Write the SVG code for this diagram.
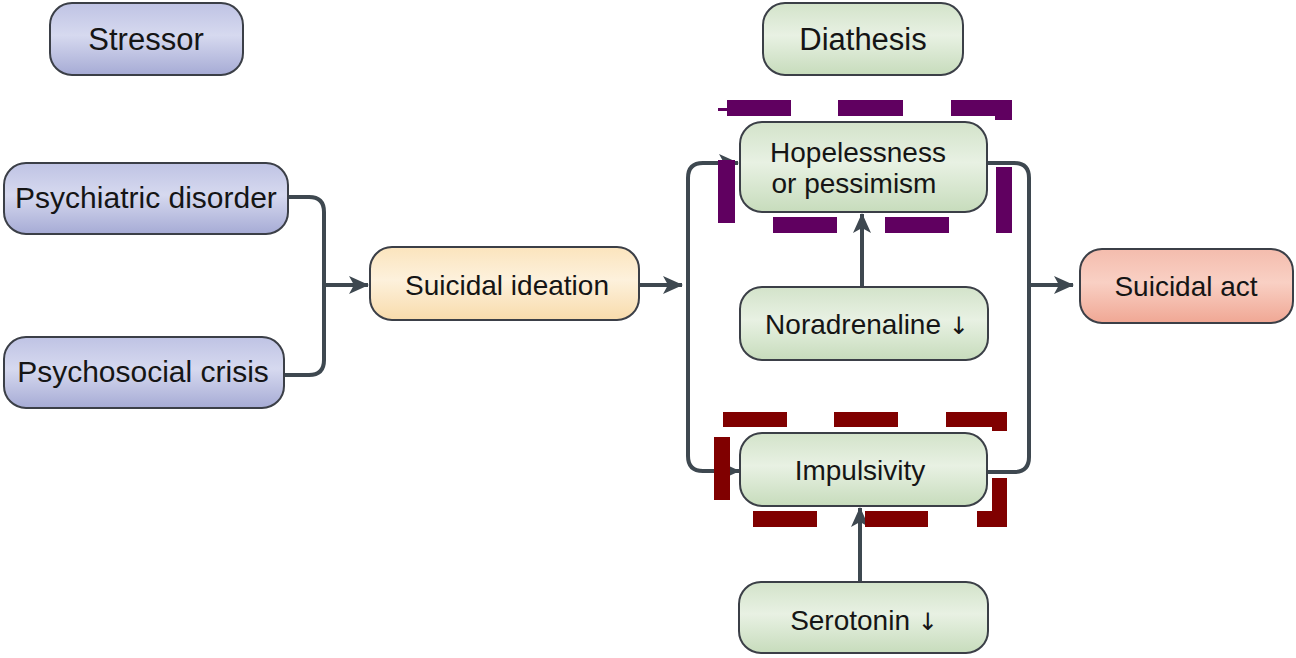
<svg xmlns="http://www.w3.org/2000/svg" width="1296" height="658" viewBox="0 0 1296 658">
  <defs>
    <linearGradient id="gBlue" x1="0" y1="0" x2="0" y2="1">
      <stop offset="0" stop-color="#bfc3e4"/>
      <stop offset="0.45" stop-color="#d6d9ef"/>
      <stop offset="1" stop-color="#a6abd5"/>
    </linearGradient>
    <linearGradient id="gGreen" x1="0" y1="0" x2="0" y2="1">
      <stop offset="0" stop-color="#d3e3ca"/>
      <stop offset="0.45" stop-color="#e8f1e3"/>
      <stop offset="1" stop-color="#c7dcbc"/>
    </linearGradient>
    <linearGradient id="gYellow" x1="0" y1="0" x2="0" y2="1">
      <stop offset="0" stop-color="#fbe4bd"/>
      <stop offset="0.45" stop-color="#fdf1dc"/>
      <stop offset="1" stop-color="#f8dbab"/>
    </linearGradient>
    <linearGradient id="gPink" x1="0" y1="0" x2="0" y2="1">
      <stop offset="0" stop-color="#f4bcad"/>
      <stop offset="0.45" stop-color="#f9d0c4"/>
      <stop offset="1" stop-color="#f0a794"/>
    </linearGradient>
    <marker id="arr" viewBox="0 0 20 18" refX="19" refY="9" markerWidth="20" markerHeight="18" markerUnits="userSpaceOnUse" orient="auto">
      <path d="M0,0 L20,9 L0,18 L5,9 Z" fill="#3e4850"/>
    </marker>
    <style>
      .box { stroke: #3b3f47; stroke-width: 2; }
      .blue { fill: url(#gBlue); }
      .green { fill: url(#gGreen); }
      .yellow { fill: url(#gYellow); }
      .pink { fill: url(#gPink); }
      .t { font-family: "Liberation Sans", Arial, sans-serif; fill: #151515; text-anchor: middle; }
      .dn { font-family: "DejaVu Sans", "Liberation Sans", sans-serif; fill: #151515; font-size: 24px; }
      .t30 { font-size: 30px; }
      .t28 { font-size: 28px; }
      .t31 { font-size: 31px; }
      .con { fill: none; stroke: #3e4850; stroke-width: 4; }
      .purple { fill: #600060; }
      .red { fill: #800000; }
    </style>
  </defs>
  <rect width="1296" height="658" fill="#ffffff"/>

  <g id="connectors">
    <path class="con" d="M288,197 H309 Q324,197 324,212 V360 Q324,375 309,375 H284"/>
    <path class="con" d="M324,285 H368" marker-end="url(#arr)"/>
    <path class="con" d="M639,285 H682" marker-end="url(#arr)"/>
    <path class="con" d="M688,285 V178 Q688,163 703,163 H738" marker-end="url(#arr)"/>
    <path class="con" d="M688,285 V456 Q688,471 703,471 H739" marker-end="url(#arr)"/>
    <path class="con" d="M987,163 H1014 Q1029,163 1029,178 V457 Q1029,472 1014,472 H987"/>
    <path class="con" d="M1029,285 H1073" marker-end="url(#arr)"/>
    <path class="con" d="M862,287 V214" marker-end="url(#arr)"/>
    <path class="con" d="M860,582 V508" marker-end="url(#arr)"/>
  </g>

  <g id="stressor">
    <rect class="box blue" x="50" y="3" width="193" height="72" rx="22"/>
    <text class="t t31" x="146" y="50">Stressor</text>
  </g>
  <g id="diathesis">
    <rect class="box green" x="763" y="3" width="200" height="72" rx="22"/>
    <text class="t t31" x="863" y="50">Diathesis</text>
  </g>
  <g id="psychiatric-disorder">
    <rect class="box blue" x="4" y="163" width="284" height="71" rx="22"/>
    <text class="t t30" x="146" y="208">Psychiatric disorder</text>
  </g>
  <g id="psychosocial-crisis">
    <rect class="box blue" x="4" y="337" width="280" height="71" rx="22"/>
    <text class="t t30" x="143" y="382">Psychosocial crisis</text>
  </g>
  <g id="suicidal-ideation">
    <rect class="box yellow" x="370" y="247" width="269" height="73" rx="22"/>
    <text class="t t28" x="507" y="295">Suicidal ideation</text>
  </g>
  <g id="hopelessness">
    <rect class="box green" x="740" y="122" width="247" height="90" rx="22"/>
    <text class="t t28" x="858" y="162">Hopelessness</text>
    <text class="t t28" x="854" y="193">or pessimism</text>
  </g>
  <g id="noradrenaline">
    <rect class="box green" x="740" y="287" width="248" height="73" rx="22"/>
    <text class="t t28" x="867" y="334">Noradrenaline <tspan class="dn">↓</tspan></text>
  </g>
  <g id="impulsivity">
    <rect class="box green" x="740" y="433" width="247" height="73" rx="22"/>
    <text class="t t28" x="860" y="480">Impulsivity</text>
  </g>
  <g id="serotonin">
    <rect class="box green" x="739" y="582" width="249" height="71" rx="22"/>
    <text class="t t28" x="864" y="630">Serotonin <tspan class="dn">↓</tspan></text>
  </g>
  <g id="suicidal-act">
    <rect class="box pink" x="1080" y="249" width="213" height="74" rx="22"/>
    <text class="t t28" x="1186" y="296">Suicidal act</text>
  </g>

  <g id="highlight-hopelessness">
    <rect class="purple" x="718" y="108" width="9" height="3"/>
    <rect class="purple" x="727" y="100" width="64" height="16"/>
    <rect class="purple" x="838" y="100" width="65" height="16"/>
    <rect class="purple" x="951" y="100" width="61" height="16"/>
    <rect class="purple" x="995" y="116" width="17" height="4"/>
    <rect class="purple" x="718" y="160" width="17" height="63"/>
    <rect class="purple" x="773" y="217" width="64" height="16"/>
    <rect class="purple" x="885" y="217" width="64" height="16"/>
    <rect class="purple" x="996" y="167" width="16" height="66"/>
  </g>
  <g id="highlight-impulsivity">
    <rect class="red" x="723" y="412" width="64" height="15"/>
    <rect class="red" x="834" y="412" width="64" height="15"/>
    <rect class="red" x="946" y="412" width="61" height="15"/>
    <rect class="red" x="992" y="427" width="15" height="4"/>
    <rect class="red" x="714" y="437" width="16" height="63"/>
    <rect class="red" x="753" y="511" width="64" height="16"/>
    <rect class="red" x="865" y="511" width="63" height="16"/>
    <rect class="red" x="977" y="511" width="30" height="16"/>
    <rect class="red" x="992" y="478" width="15" height="49"/>
  </g>
</svg>
